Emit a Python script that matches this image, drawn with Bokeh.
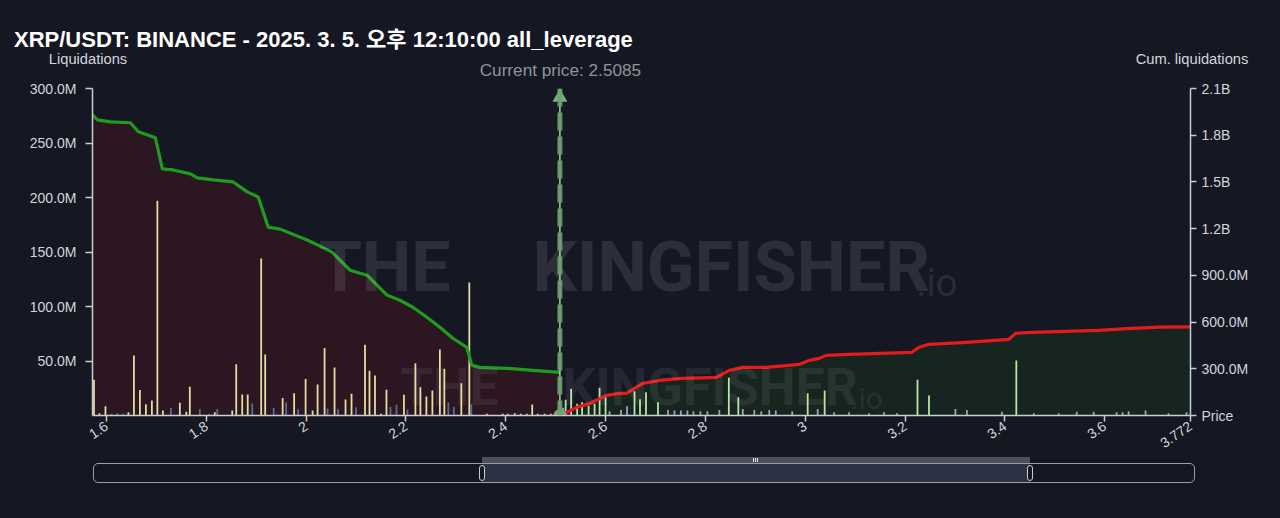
import numpy as np
from bokeh.plotting import figure
from bokeh.models import (Range1d, LinearAxis, FixedTicker, Label, Span, Div,
                          ColumnDataSource, GlobalInlineStyleSheet)
from bokeh.layouts import column
from bokeh.embed import file_html
from bokeh.resources import INLINE

# ---------------- data ----------------
title_text = "XRP/USDT: BINANCE - 2025. 3. 5. 오후 12:10:00 all_leverage"
current_price = 2.5085
x_start, x_end = 1.572, 3.772

x_ticks = [1.6, 1.8, 2.0, 2.2, 2.4, 2.6, 2.8, 3.0, 3.2, 3.4, 3.6, 3.772]
x_tick_labels = ["1.6", "1.8", "2", "2.2", "2.4", "2.6", "2.8", "3", "3.2", "3.4", "3.6", "3.772"]
liq_ticks = [50e6, 100e6, 150e6, 200e6, 250e6, 300e6]
liq_tick_labels = ["50.0M", "100.0M", "150.0M", "200.0M", "250.0M", "300.0M"]
cum_ticks = [0, 300e6, 600e6, 900e6, 1.2e9, 1.5e9, 1.8e9, 2.1e9]
cum_tick_labels = ["Price", "300.0M", "600.0M", "900.0M", "1.2B", "1.5B", "1.8B", "2.1B"]

# liquidations per price level below current price (millions)
long_bar_price = [1.575, 1.586, 1.598, 1.644, 1.655, 1.667, 1.679, 1.691, 1.702, 1.713,
                  1.747, 1.760, 1.767, 1.805, 1.817, 1.852, 1.860, 1.872, 1.883, 1.910,
                  1.918, 1.953, 1.976, 1.999, 2.013, 2.023, 2.037, 2.057, 2.079, 2.091,
                  2.118, 2.127, 2.138, 2.150, 2.161, 2.196, 2.219, 2.229, 2.241, 2.253,
                  2.268, 2.277, 2.311, 2.327, 2.362, 2.394, 2.404, 2.418, 2.430, 2.442,
                  2.453, 2.464, 2.478, 2.490]
long_bar_value = [32.7, 2, 8.5, 3, 55, 23.5, 10.4, 13.8, 197, 4.6,
                  11.6, 3.4, 26.3, 1, 3, 4.6, 47, 19.3, 19.3, 144,
                  56, 16, 20.5, 33.6, 4.6, 28.4, 62, 44, 14.7, 20,
                  65, 41, 36.7, 1.5, 23.6, 19, 48, 26, 17.4, 23,
                  60.5, 42.8, 29.7, 122, 1.5, 1.5, 1.5, 2, 1.5, 1.5,
                  10, 1.5, 1.5, 1.5]
long_small_price = [1.610, 1.622, 1.633, 1.729, 1.787, 1.822, 1.892, 1.935, 1.960, 1.984,
                    2.043, 2.064, 2.100, 2.169, 2.181, 2.203, 2.285, 2.296, 2.331]
long_small_value = [1.5, 2, 1.5, 7, 6, 6, 11, 7, 12, 6,
                    6.4, 6, 7.6, 7.9, 9.8, 5.5, 12, 8, 10]

# liquidations per price level above current price (millions)
short_bar_price = [2.520, 2.531, 2.543, 2.553, 2.566, 2.578, 2.588, 2.600, 2.658, 2.669,
                   2.681, 2.705, 2.847, 2.866, 3.005, 3.039, 3.225, 3.248, 3.423]
short_bar_value = [14.4, 24.5, 10.7, 12.2, 9, 10.7, 25.4, 16.8, 22.3, 15,
                   21.4, 12.2, 34.6, 16.8, 20.5, 22.9, 32.7, 18.3, 50.5]
short_small_price = [2.515, 2.608, 2.631, 2.643, 2.725, 2.738, 2.751, 2.764, 2.776, 2.790,
                     2.804, 2.828, 2.875, 2.898, 2.912, 2.928, 2.941, 2.974, 3.025, 3.058,
                     3.088, 3.128, 3.158, 3.184, 3.301, 3.324, 3.394, 3.458, 3.508, 3.544,
                     3.578, 3.624, 3.636, 3.648, 3.682, 3.728, 3.764]
short_small_value = [7, 4, 5, 8.5, 5, 4.5, 4.5, 4.5, 4, 4,
                     4, 5, 6, 5, 4, 5, 4.5, 4, 6, 3,
                     3, 2, 3, 2, 6, 5, 3.5, 2, 2, 3.5,
                     3.5, 3, 3, 4, 4.5, 2, 3]

# cumulative liquidations (millions)
long_cum_price = [1.572, 1.582, 1.608, 1.648, 1.664, 1.698, 1.712, 1.734, 1.768, 1.782,
                  1.814, 1.854, 1.882, 1.904, 1.924, 1.948, 2.002, 2.028, 2.052, 2.078,
                  2.088, 2.122, 2.162, 2.188, 2.214, 2.242, 2.268, 2.294, 2.322, 2.332,
                  2.348, 2.402, 2.454, 2.5085]
long_cum_value = [1931, 1899, 1886, 1880, 1822, 1783, 1584, 1577, 1552, 1526,
                  1513, 1500, 1436, 1403, 1210, 1197, 1127, 1088, 1049, 966,
                  933, 901, 773, 740, 695, 631, 567, 496, 438, 322,
                  309, 303, 290, 277]
short_cum_price = [2.5085, 2.522, 2.542, 2.568, 2.602, 2.628, 2.642, 2.674, 2.708, 2.754,
                   2.822, 2.848, 2.874, 2.922, 2.988, 3.008, 3.028, 3.042, 3.088, 3.214,
                   3.228, 3.248, 3.322, 3.408, 3.422, 3.454, 3.588, 3.654, 3.708, 3.772]
short_cum_value = [0, 19, 52, 77, 129, 142, 142, 206, 225, 238,
                   245, 290, 309, 309, 328, 354, 367, 386, 393, 406,
                   438, 457, 470, 489, 528, 534, 547, 560, 567, 569]

# range slider state (fractions of full range)
slider_start, slider_end = 0.353, 0.850

# ---------------- style / geometry ----------------
BG = "#151823"
FONT = "Liberation Sans"
AXIS_C = "#c9ccd4"
LABEL_C = "#d2d5dc"
W = 1280
HEADER_H = 79
FRAME_L, FRAME_R = 92, 1190          # page x of frame edges
FRAME_T, FRAME_B = 88, 415           # page y of frame edges
BORDER_TOP = FRAME_T - HEADER_H
BORDER_BOTTOM = 42
MAIN_H = FRAME_B + BORDER_BOTTOM - HEADER_H
SLIDER_H = 518 - HEADER_H - MAIN_H
M = 1e6

p = figure(width=W, height=MAIN_H, x_range=Range1d(x_start, x_end),
           y_range=Range1d(0, 300e6), output_backend="svg", toolbar_location=None,
           background_fill_color=BG, border_fill_color=BG, outline_line_color=None,
           min_border_left=FRAME_L, min_border_right=W - FRAME_R,
           min_border_top=BORDER_TOP, min_border_bottom=BORDER_BOTTOM)
p.xgrid.visible = False
p.ygrid.visible = False
p.extra_y_ranges = {"cum": Range1d(0, 2.1e9)}
cum_axis = LinearAxis(y_range_name="cum")
p.add_layout(cum_axis, "right")


def style_axis(ax):
    ax.axis_line_color = AXIS_C
    ax.axis_line_width = 1.5
    ax.major_tick_line_color = AXIS_C
    ax.major_tick_line_width = 1.5
    ax.major_tick_out = 6
    ax.major_tick_in = 0
    ax.minor_tick_line_color = None
    ax.major_label_text_color = LABEL_C
    ax.major_label_text_font = FONT
    ax.major_label_text_font_size = "14px"
    ax.major_label_standoff = 4


xa = p.xaxis[0]
style_axis(xa)
xa.ticker = FixedTicker(ticks=x_ticks)
xa.major_label_overrides = dict(zip(x_ticks, x_tick_labels))
xa.major_label_orientation = 0.6
xa.major_label_standoff = 3

ya = p.yaxis[0]
style_axis(ya)
ya.ticker = FixedTicker(ticks=liq_ticks)
ya.major_label_overrides = dict(zip(liq_ticks, liq_tick_labels))
ya.major_tick_out = 7
ya.major_label_standoff = 9

style_axis(cum_axis)
cum_axis.ticker = FixedTicker(ticks=cum_ticks)
cum_axis.major_label_overrides = dict(zip(cum_ticks, cum_tick_labels))
cum_axis.major_label_standoff = 5

# areas under cumulative curves
long_cum = ColumnDataSource(dict(x=long_cum_price, y=[v * M for v in long_cum_value],
                                 z=[0] * len(long_cum_price)))
short_cum = ColumnDataSource(dict(x=short_cum_price, y=[v * M for v in short_cum_value],
                                  z=[0] * len(short_cum_price)))
p.varea(x="x", y1="z", y2="y", source=long_cum, y_range_name="cum",
        fill_color="#2c1621")
p.varea(x="x", y1="z", y2="y", source=short_cum, y_range_name="cum",
        fill_color="#172520")


def frame_label(px, py, text, size, color, align="left", bold=False, alpha=1.0,
                font=FONT):
    lab = Label(x=px - FRAME_L, y=FRAME_B - py, x_units="screen", y_units="screen",
                text=text, text_font=font, text_font_size=f"{size}px",
                text_color=color, text_align=align, text_baseline="middle",
                text_alpha=alpha, text_font_style="bold" if bold else "normal")
    p.add_layout(lab)
    return lab


# watermark
WM = "Roboto"
frame_label(318, 266, "THE", 70, "#ffffff", bold=True, alpha=0.10, font=WM)
frame_label(532, 266, "KINGFISHER", 70, "#ffffff", bold=True, alpha=0.10, font=WM)
frame_label(916, 282, ".io", 38, "#ffffff", alpha=0.10, font=WM)
frame_label(400, 387, "THE", 52, "#ffffff", bold=True, alpha=0.07, font=WM)
frame_label(562, 387, "KINGFISHER", 52, "#ffffff", bold=True, alpha=0.07, font=WM)
frame_label(850, 398, ".io", 30, "#ffffff", alpha=0.07, font=WM)

# bars
BW = 0.0036
p.vbar(x=long_small_price, top=[v * M for v in long_small_value], width=BW,
       fill_color="#5d6a8f", line_color=None)
p.vbar(x=long_bar_price, top=[v * M for v in long_bar_value], width=BW,
       fill_color="#e3dd9f", line_color=None)
p.vbar(x=short_small_price, top=[v * M for v in short_small_value], width=BW,
       fill_color="#9ea3b4", line_color=None)
p.vbar(x=short_bar_price, top=[v * M for v in short_bar_value], width=BW,
       fill_color="#b9e4a2", line_color=None)

# cumulative lines
p.line(x="x", y="y", source=long_cum, y_range_name="cum", line_color="#1f9b1f",
       line_width=3.2, line_join="round")
p.line(x="x", y="y", source=short_cum, y_range_name="cum", line_color="#e31b1b",
       line_width=3.2, line_join="round")

# current price marker
p.add_layout(Span(location=current_price, dimension="height", line_color="#a3d3a3",
                  line_width=1.5))
p.add_layout(Span(location=current_price, dimension="height", line_color="#6e9e6e",
                  line_width=5, line_dash="18 6", line_alpha=0.9))
frame_h = FRAME_B - FRAME_T
y_top = p.y_range.end
p.scatter(x=[current_price], y=[y_top * (1 - 9 / frame_h)], marker="triangle", size=15,
          fill_color="#7fae7f", line_color=None)
p.scatter(x=[current_price], y=[0], marker="circle", size=13,
          fill_color="#7da57d", line_color=None)

# ---------------- header (title + axis titles) ----------------
cp_x = FRAME_L + (current_price - x_start) / (x_end - x_start) * (FRAME_R - FRAME_L)
TXT = "font-family:'Liberation Sans','Noto Sans CJK KR',sans-serif;white-space:nowrap;"


def centered(cx, cy, text, size, color, weight="normal"):
    return (f'<div style="position:absolute;left:{cx - 200:.1f}px;top:{cy - size * 0.55:.1f}px;'
            f'width:400px;text-align:center;line-height:{size * 1.1:.1f}px;'
            f'font-size:{size}px;color:{color};font-weight:{weight};{TXT}">{text}</div>')


header_html = (
    f'<div style="position:relative;width:{W}px;height:{HEADER_H}px;background:{BG};">'
    f'<div style="position:absolute;left:14px;top:{40 - 14}px;line-height:28px;'
    f'font-size:22px;font-weight:bold;color:#ffffff;{TXT}">{title_text}</div>'
    + centered(88, 59, "Liquidations", 14.7, LABEL_C)
    + centered(1192, 59, "Cum. liquidations", 14.7, LABEL_C)
    + centered(cp_x + 1, 70.5, f"Current price: {current_price}", 17.2, "#8f939d")
    + '</div>'
)
header = Div(text=header_html, width=W, height=HEADER_H, margin=0)

# ---------------- range slider ----------------
TR_L, TR_R = 93, 1195
TR_TOP = 463 - (HEADER_H + MAIN_H)     # track top inside the slider strip
sl_l = TR_L + slider_start * (TR_R - TR_L)
sl_r = TR_L + slider_end * (TR_R - TR_L)
slider_html = (
    f'<div style="position:relative;width:{W}px;height:{SLIDER_H}px;background:{BG};">'
    f'<div style="position:absolute;left:{TR_L}px;top:{TR_TOP}px;width:{TR_R - TR_L}px;height:20px;'
    f'box-sizing:border-box;border:1.5px solid #9a9ea8;border-radius:5px;background:{BG};"></div>'
    f'<div style="position:absolute;left:{sl_l:.1f}px;top:{TR_TOP + 1}px;width:{sl_r - sl_l:.1f}px;height:18px;'
    f'background:#2e3245;"></div>'
    f'<div style="position:absolute;left:{sl_l:.1f}px;top:0px;width:{sl_r - sl_l:.1f}px;height:{TR_TOP}px;'
    f'background:#4b4f5c;"></div>'
    f'<div style="position:absolute;left:{(sl_l + sl_r) / 2 - 3:.1f}px;top:1px;width:1px;height:4px;background:#e8e8ee;"></div>'
    f'<div style="position:absolute;left:{(sl_l + sl_r) / 2 - 1:.1f}px;top:1px;width:1px;height:4px;background:#e8e8ee;"></div>'
    f'<div style="position:absolute;left:{(sl_l + sl_r) / 2 + 1:.1f}px;top:1px;width:1px;height:4px;background:#e8e8ee;"></div>'
    f'<div style="position:absolute;left:{sl_l - 3:.1f}px;top:{TR_TOP + 2}px;width:6px;height:16px;box-sizing:border-box;'
    f'border:1.5px solid #c8ccd4;border-radius:3px;background:{BG};"></div>'
    f'<div style="position:absolute;left:{sl_r - 3:.1f}px;top:{TR_TOP + 2}px;width:6px;height:16px;box-sizing:border-box;'
    f'border:1.5px solid #c8ccd4;border-radius:3px;background:{BG};"></div>'
    '</div>'
)
slider = Div(text=slider_html, width=W, height=SLIDER_H, margin=0)

layout = column(header, p, slider, spacing=0, stylesheets=[GlobalInlineStyleSheet(
    css="html, body { background-color: #151823; margin: 0; }")])

open("out.html", "w").write(file_html(layout, INLINE))
